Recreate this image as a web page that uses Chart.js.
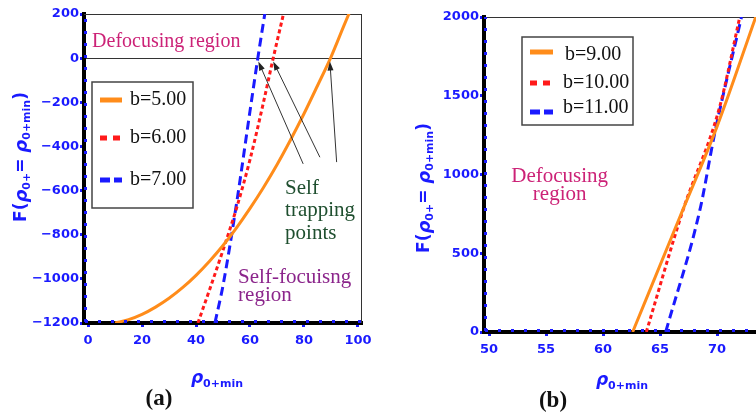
<!DOCTYPE html>
<html><head><meta charset="utf-8">
<script src="https://cdn.jsdelivr.net/npm/chart.js@4.4.1/dist/chart.umd.min.js"></script>
<style>
html,body{margin:0;padding:0;width:756px;height:416px;overflow:hidden;background:#fff}
#ca{position:absolute;left:0;top:0}
#cb{position:absolute;left:380px;top:0}
</style></head><body>
<canvas id="ca" width="378" height="416"></canvas>
<canvas id="cb" width="430" height="416"></canvas>
<script>
// ---------- Panel (a) data ----------
const aLabels = ['b=5.00', 'b=6.00', 'b=7.00'];
const aB5X = [10, 15, 20, 25, 30, 35, 40, 45, 50, 55, 60, 65, 70, 75, 80, 85, 90, 95, 97.5];
const aB5Y = [-1200, -1185, -1161, -1128, -1088, -1040, -984, -920, -849, -769, -681, -586, -483, -371, -252, -125, 5, 153, 225];
const aB6X = [40.7, 45, 50, 55, 60, 65, 68.6, 72.5];
const aB6Y = [-1200, -1050, -870, -680, -460, -200, 0, 205];
const aB7X = [47, 50, 55, 60, 62.9, 66];
const aB7Y = [-1200, -1030, -660, -240, 0, 240];
const aTicksX = [0, 20, 40, 60, 80, 100];
const aTicksY = [-1200, -1000, -800, -600, -400, -200, 0, 200];

// ---------- Panel (b) data ----------
const bLabels = ['b=9.00', 'b=10.00', 'b=11.00'];
const bB9X = [62.6, 66.75, 70, 73.4];
const bB9Y = [0, 732, 1304, 2000];
const bB10X = [63.8, 67, 70.2, 72.0];
const bB10Y = [0, 770, 1420, 2000];
const bB11X = [65.5, 68.5, 69.8, 72.15];
const bB11Y = [0, 775, 1262, 2000];
const bTicksX = [50, 55, 60, 65, 70, 75];
const bTicksY = [0, 500, 1000, 1500, 2000];

// ---------- styles ----------
const BLUE = '#1a1aff', RED = '#ff1a1a', ORANGE = '#ff8c1a';
const TICKFONT = {family: 'DejaVu Sans', size: 13, weight: 'bold'};
const SERIF = 'Liberation Serif';

function series(xs, ys) { return xs.map((x, i) => ({x: x, y: ys[i]})); }
function fmt(v) { return String(v).replace('-', '\u2212'); }

function drawRich(ctx, cx, cy, segs, rot) {
  ctx.save();
  ctx.translate(cx, cy);
  if (rot) ctx.rotate(rot);
  let w = 0;
  for (const s of segs) { ctx.font = s.f; w += ctx.measureText(s.t).width; }
  let x = -w / 2;
  ctx.textBaseline = 'middle'; ctx.textAlign = 'left';
  for (const s of segs) {
    ctx.font = s.f; ctx.fillStyle = s.c || BLUE;
    ctx.fillText(s.t, x, s.dy || 0);
    x += ctx.measureText(s.t).width;
  }
  ctx.restore();
}
const MAIN = 'bold 17px "DejaVu Sans"', RHO = 'italic bold 18px "DejaVu Sans"', SUB = 'bold 11px "DejaVu Sans"';
const yTitleSegs = [
  {t: 'F(', f: MAIN}, {t: '\u03C1', f: RHO}, {t: '0+', f: SUB, dy: 5},
  {t: '= ', f: MAIN}, {t: '\u03C1', f: RHO}, {t: '0+min', f: SUB, dy: 5}, {t: ')', f: MAIN}
];
const xTitleSegs = [
  {t: '\u03C1', f: 'italic bold 17px "DejaVu Sans"'}, {t: '0+min', f: SUB, dy: 5}
];

function makeDecor(cfg) {
  return {
    id: 'decor',
    beforeDatasetsDraw(chart) {
      const ctx = chart.ctx, a = chart.chartArea;
      ctx.save();
      ctx.strokeStyle = '#333'; ctx.lineWidth = 1;
      ctx.beginPath();
      ctx.moveTo(a.left, a.top + 0.5); ctx.lineTo(a.right, a.top + 0.5);
      ctx.moveTo(a.right - 0.5, a.top); ctx.lineTo(a.right - 0.5, a.bottom);
      ctx.stroke();
      ctx.restore();
    },
    afterDatasetsDraw(chart) {
      const ctx = chart.ctx, a = chart.chartArea;
      const sx = chart.scales.x, sy = chart.scales.y;
      ctx.save();
      // blue dotted axis overlay
      ctx.strokeStyle = BLUE; ctx.lineWidth = 3; ctx.setLineDash([3, 10]);
      ctx.beginPath();
      ctx.moveTo(a.left + 1, a.bottom - 1.5); ctx.lineTo(a.right, a.bottom - 1.5);
      ctx.stroke();
      ctx.setLineDash([3, 9]);
      ctx.beginPath();
      ctx.moveTo(a.left + 1.5, a.bottom - 1); ctx.lineTo(a.left + 1.5, a.top);
      ctx.stroke();
      ctx.setLineDash([]);
      // arrows
      for (const ar of cfg.arrows || []) {
        const x0 = sx.getPixelForValue(ar.x0), y0 = sy.getPixelForValue(ar.y0);
        const x1 = sx.getPixelForValue(ar.x1), y1 = sy.getPixelForValue(ar.y1);
        const ang = Math.atan2(y1 - y0, x1 - x0);
        ctx.strokeStyle = '#333'; ctx.fillStyle = '#222'; ctx.lineWidth = 1;
        ctx.beginPath(); ctx.moveTo(x0, y0);
        ctx.lineTo(x1 - 6 * Math.cos(ang), y1 - 6 * Math.sin(ang)); ctx.stroke();
        ctx.beginPath();
        ctx.moveTo(x1, y1);
        ctx.lineTo(x1 - 9 * Math.cos(ang) + 3 * Math.sin(ang), y1 - 9 * Math.sin(ang) - 3 * Math.cos(ang));
        ctx.lineTo(x1 - 9 * Math.cos(ang) - 3 * Math.sin(ang), y1 - 9 * Math.sin(ang) + 3 * Math.cos(ang));
        ctx.closePath(); ctx.fill();
      }
      // annotation texts
      for (const t of cfg.texts || []) {
        ctx.font = t.font; ctx.fillStyle = t.color;
        ctx.textAlign = t.align || 'left'; ctx.textBaseline = 'alphabetic';
        ctx.fillText(t.text, sx.getPixelForValue(t.x), sy.getPixelForValue(t.y));
      }
      // legend
      const lg = cfg.legend;
      if (lg) {
        const bx = a.left + lg.dx, by = a.top + lg.dy;
        ctx.fillStyle = '#fff'; ctx.fillRect(bx, by, lg.w, lg.h);
        ctx.strokeStyle = '#444'; ctx.lineWidth = 1.5;
        ctx.strokeRect(bx, by, lg.w, lg.h);
        chart.data.datasets.forEach((ds, i) => {
          const e = lg.entries[i];
          ctx.strokeStyle = ds.borderColor; ctx.lineWidth = 5;
          ctx.setLineDash(ds.legendDash);
          ctx.beginPath();
          ctx.moveTo(bx + lg.sx0, by + e.ly); ctx.lineTo(bx + lg.sx1, by + e.ly);
          ctx.stroke();
          ctx.setLineDash([]);
          ctx.font = '20px "' + SERIF + '"'; ctx.fillStyle = '#111';
          ctx.textAlign = 'left'; ctx.textBaseline = 'middle';
          ctx.fillText(ds.label, bx + e.tx, by + e.ty);
        });
      }
      // axis titles and panel label
      drawRich(ctx, cfg.yTitle.x, cfg.yTitle.y, yTitleSegs, -Math.PI / 2);
      drawRich(ctx, cfg.xTitle.x, cfg.xTitle.y, xTitleSegs, 0);
      ctx.font = 'bold 23px "' + SERIF + '"'; ctx.fillStyle = '#111';
      ctx.textAlign = 'center'; ctx.textBaseline = 'middle';
      ctx.fillText(cfg.panel.text, cfg.panel.x, cfg.panel.y);
      ctx.restore();
    }
  };
}

function buildScales(p) {
  return {
    x: {
      type: 'linear', min: p.xmin, max: p.xmax,
      afterBuildTicks: s => { s.ticks = p.ticksX.map(v => ({value: v})); },
      afterFit: s => { s.height = p.xh; },
      ticks: {color: BLUE, font: TICKFONT, padding: 6, callback: v => fmt(v), maxRotation: 0, autoSkip: false},
      grid: {drawOnChartArea: false, drawTicks: true, tickLength: 4, tickColor: BLUE, tickWidth: 3},
      border: {display: true, color: '#000', width: 4}
    },
    y: {
      type: 'linear', min: p.ymin, max: p.ymax,
      afterBuildTicks: s => { s.ticks = p.ticksY.map(v => ({value: v})); },
      afterFit: s => { s.width = p.yw; },
      ticks: {color: BLUE, font: TICKFONT, padding: 1, callback: v => fmt(v), autoSkip: false},
      grid: {
        drawOnChartArea: true, drawTicks: true, tickLength: 4, tickColor: BLUE, tickWidth: 3,
        color: c => (p.zeroLine && c.tick && c.tick.value === 0) ? '#333' : 'rgba(0,0,0,0)',
        lineWidth: 1
      },
      border: {display: true, color: '#000', width: 4}
    }
  };
}

function ds(label, data, color, dash, legendDash) {
  return {
    label: label, data: data, borderColor: color, backgroundColor: color,
    borderWidth: 3, borderDash: dash, legendDash: legendDash,
    pointRadius: 0, fill: false, clip: 0, tension: 0, cubicInterpolationMode: 'monotone'
  };
}

Chart.defaults.animation = false;

// ---------- chart (a) ----------
new Chart(document.getElementById('ca'), {
  type: 'line',
  data: {
    datasets: [
      ds(aLabels[0], series(aB5X, aB5Y), ORANGE, [], []),
      ds(aLabels[1], series(aB6X, aB6Y), RED, [4, 3], [7, 6]),
      ds(aLabels[2], series(aB7X, aB7Y), BLUE, [9, 5], [10, 4])
    ]
  },
  options: {
    responsive: false, devicePixelRatio: 1,
    layout: {padding: {top: 14, right: 16, left: 0, bottom: 0}},
    plugins: {legend: {display: false}, tooltip: {enabled: false}},
    scales: buildScales({xmin: -1.5, xmax: 101.5, ymin: -1200, ymax: 200, ticksX: aTicksX, ticksY: aTicksY, xh: 93, yw: 84, zeroLine: true})
  },
  plugins: [makeDecor({
    arrows: [
      {x0: 79.7, y0: -479, x1: 63.1, y1: -15},
      {x0: 85.9, y0: -449, x1: 68.6, y1: -15},
      {x0: 92.1, y0: -471, x1: 89.6, y1: -15}
    ],
    texts: [
      {text: 'Defocusing region', x: 1.5, y: 51, font: '20px "' + SERIF + '"', color: '#cc2277'},
      {text: 'Self', x: 73, y: -615, font: '21px "' + SERIF + '"', color: '#1f4f2f'},
      {text: 'trapping', x: 73, y: -714, font: '21px "' + SERIF + '"', color: '#1f4f2f'},
      {text: 'points', x: 73, y: -818, font: '21px "' + SERIF + '"', color: '#1f4f2f'},
      {text: 'Self-focuisng', x: 55.6, y: -1018, font: '21px "' + SERIF + '"', color: '#8b258b'},
      {text: 'region', x: 55.6, y: -1100, font: '21px "' + SERIF + '"', color: '#8b258b'}
    ],
    legend: {dx: 8, dy: 68, w: 101, h: 126, sx0: 8, sx1: 30,
      entries: [{ly: 18, tx: 38, ty: 18}, {ly: 56, tx: 38, ty: 56}, {ly: 98, tx: 38, ty: 98}]},
    yTitle: {x: 22, y: 157},
    xTitle: {x: 217, y: 379},
    panel: {text: '(a)', x: 159, y: 399}
  })]
});

// ---------- chart (b) ----------
new Chart(document.getElementById('cb'), {
  type: 'line',
  data: {
    datasets: [
      ds(bLabels[0], series(bB9X, bB9Y), ORANGE, [], []),
      ds(bLabels[1], series(bB10X, bB10Y), RED, [4, 3], [7, 6]),
      ds(bLabels[2], series(bB11X, bB11Y), BLUE, [9, 5], [10, 4])
    ]
  },
  options: {
    responsive: false, devicePixelRatio: 1,
    layout: {padding: {top: 17, right: 36, left: 0, bottom: 0}},
    plugins: {legend: {display: false}, tooltip: {enabled: false}},
    scales: buildScales({xmin: 49.56, xmax: 75, ymin: 0, ymax: 2000, ticksX: bTicksX, ticksY: bTicksY, xh: 84, yw: 104, zeroLine: false})
  },
  plugins: [makeDecor({
    arrows: [],
    texts: [
      {text: 'Defocusing', x: 56.2, y: 955, font: '21px "' + SERIF + '"', color: '#cc2277', align: 'center'},
      {text: 'region', x: 56.2, y: 839, font: '21px "' + SERIF + '"', color: '#cc2277', align: 'center'}
    ],
    legend: {dx: 38, dy: 20, w: 111, h: 88, sx0: 8, sx1: 31,
      entries: [{ly: 15, tx: 43, ty: 18}, {ly: 46, tx: 41, ty: 46}, {ly: 75, tx: 41, ty: 71}]},
    yTitle: {x: 45, y: 188},
    xTitle: {x: 242, y: 381},
    panel: {text: '(b)', x: 173, y: 401}
  })]
});
</script>
</body></html>
